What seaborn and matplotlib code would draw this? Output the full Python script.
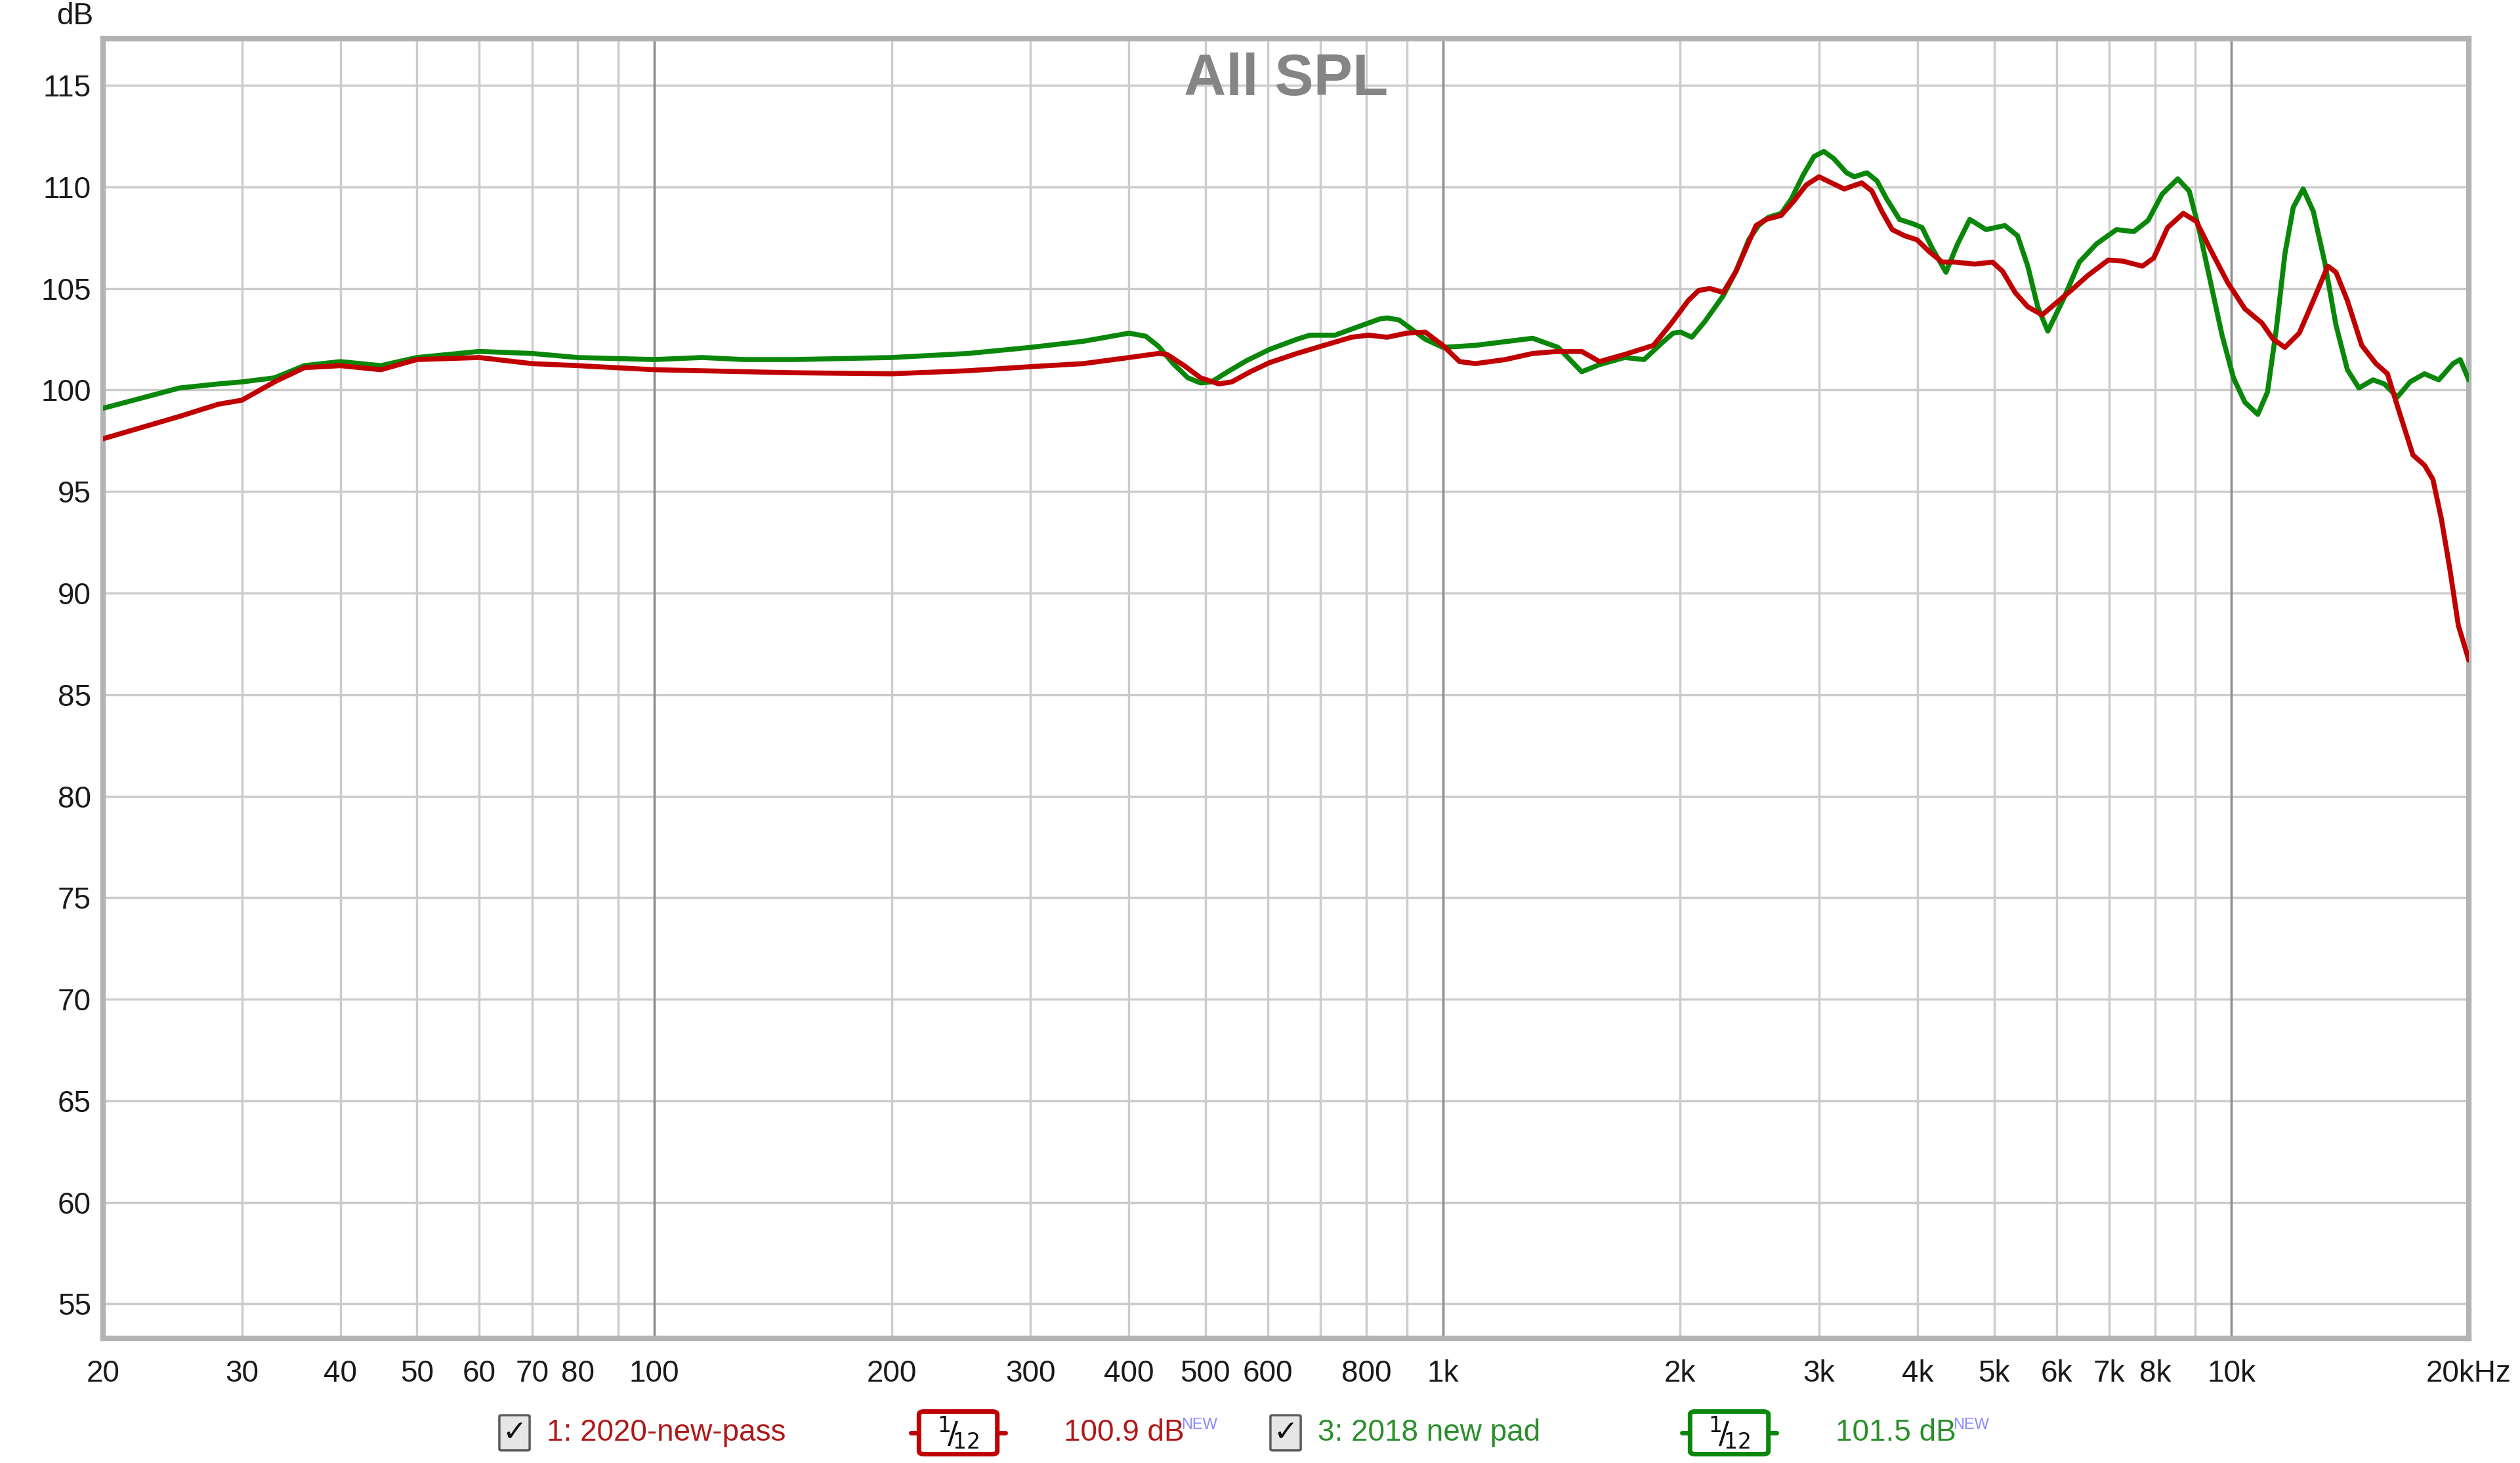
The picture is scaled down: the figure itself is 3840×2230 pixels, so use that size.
"""
All SPL frequency response comparison (2020 new pass vs 2018 new pad).
"""

import numpy as np
import pandas as pd
import matplotlib
matplotlib.use("Agg")
import matplotlib.pyplot as plt
import seaborn as sns
from matplotlib.patches import FancyBboxPatch
from matplotlib.lines import Line2D

freq_2020 = [20, 25, 28, 30, 33, 36, 40, 45, 50, 60, 70, 80, 100, 150, 200, 250, 300,
             350, 400, 436, 447, 470, 493, 520, 540, 570, 603, 653, 700, 766, 805, 850,
             900, 950, 1000, 1050, 1100, 1200, 1300, 1400, 1500, 1580, 1700, 1850, 1950,
             2047, 2110, 2180, 2268, 2354, 2425, 2496, 2570, 2686, 2786, 2890, 2999,
             3111, 3228, 3398, 3500, 3603, 3714, 3849, 3993, 4142, 4297, 4457, 4726,
             4978, 5126, 5318, 5518, 5754, 6000, 6260, 6580, 6980, 7280, 7710, 7970,
             8300, 8690, 9028, 9410, 9890, 10400, 10930, 11300, 11690, 12190, 12700,
             13250, 13570, 14030, 14630, 15250, 15770, 16300, 16990, 17570, 18010,
             18460, 18920, 19400, 20000]
spl_2020 = [97.6, 98.7, 99.3, 99.5, 100.4, 101.1, 101.2, 101.0, 101.5, 101.6, 101.3,
            101.2, 101.0, 100.85, 100.8, 100.95, 101.15, 101.3, 101.6, 101.8, 101.75,
            101.2, 100.6, 100.3, 100.4, 100.9, 101.35, 101.8, 102.15, 102.6, 102.7,
            102.6, 102.8, 102.85, 102.2, 101.4, 101.3, 101.5, 101.8, 101.9, 101.9,
            101.4, 101.75, 102.2, 103.3, 104.4, 104.9, 105.0, 104.8, 105.85, 107.0,
            108.1, 108.4, 108.6, 109.3, 110.1, 110.5, 110.2, 109.9, 110.2, 109.8,
            108.8, 107.9, 107.6, 107.4, 106.8, 106.3, 106.3, 106.2, 106.3, 105.85,
            104.8, 104.1, 103.7, 104.3, 104.9, 105.65, 106.4, 106.35, 106.1, 106.5,
            108.0, 108.7, 108.3, 106.9, 105.3, 104.0, 103.3, 102.5, 102.1, 102.8,
            104.4, 106.1, 105.8, 104.4, 102.2, 101.3, 100.8, 99.0, 96.8, 96.3, 95.6,
            93.65, 91.2, 88.4, 86.7]

freq_2018 = [20, 25, 28, 30, 33, 36, 40, 45, 50, 60, 70, 80, 100, 115, 130, 150, 200,
             250, 300, 350, 400, 420, 436, 455, 475, 493, 509, 531, 564, 603, 653, 678,
             730, 766, 832, 850, 880, 950, 1000, 1100, 1300, 1400, 1500, 1580, 1700,
             1800, 1900, 1959, 2003, 2069, 2147, 2268, 2354, 2443, 2514, 2587, 2686,
             2766, 2865, 2956, 3042, 3131, 3250, 3325, 3450, 3552, 3656, 3794, 3937,
             4053, 4172, 4345, 4490, 4658, 4885, 5160, 5355, 5518, 5680, 5850, 6110,
             6415, 6745, 7150, 7520, 7840, 8170, 8550, 8840, 9100, 9410, 9730, 10060,
             10400, 10800, 11110, 11400, 11690, 11980, 12330, 12700, 13130, 13570,
             14030, 14510, 15120, 15630, 16230, 16850, 17570, 18320, 19100, 19500, 20000]
spl_2018 = [99.1, 100.1, 100.3, 100.4, 100.6, 101.2, 101.4, 101.2, 101.6, 101.9, 101.8,
            101.6, 101.5, 101.6, 101.5, 101.5, 101.6, 101.8, 102.1, 102.4, 102.8,
            102.65, 102.15, 101.3, 100.6, 100.35, 100.4, 100.85, 101.45, 102.0, 102.5,
            102.7, 102.7, 103.0, 103.5, 103.55, 103.45, 102.5, 102.1, 102.2, 102.55,
            102.1, 100.9, 101.25, 101.6, 101.5, 102.35, 102.8, 102.85, 102.6, 103.35,
            104.65, 105.85, 107.4, 108.1, 108.5, 108.7, 109.4, 110.6, 111.5, 111.75,
            111.4, 110.7, 110.5, 110.7, 110.3, 109.4, 108.4, 108.2, 108.0, 107.0,
            105.8, 107.15, 108.4, 107.9, 108.1, 107.6, 106.1, 104.1, 102.9, 104.4,
            106.3, 107.2, 107.9, 107.8, 108.35, 109.65, 110.4, 109.8, 107.9, 105.3,
            102.7, 100.6, 99.4, 98.8, 99.9, 103.0, 106.7, 109.0, 109.9, 108.8, 106.3,
            103.2, 101.0, 100.1, 100.5, 100.3, 99.65, 100.4, 100.8, 100.5, 101.3,
            101.5, 100.5]

series_names = ["1: 2020-new-pass", "3: 2018 new pad"]
series_levels = ["100.9 dB", "101.5 dB"]

grid_freqs = [20, 30, 40, 50, 60, 70, 80, 90, 100, 200, 300, 400, 500, 600, 700, 800,
              900, 1000, 2000, 3000, 4000, 5000, 6000, 7000, 8000, 9000, 10000, 20000]
grid_labels = ["20", "30", "40", "50", "60", "70", "80", "", "100", "200", "300", "400",
               "500", "600", "", "800", "", "1k", "2k", "3k", "4k", "5k", "6k", "7k",
               "8k", "", "10k", "20kHz"]
decade_freqs = [100, 1000, 10000]
y_ticks = list(range(55, 116, 5))

RED = "#c00000"
GREEN = "#0a870a"
RED_TXT = "#b01818"
GREEN_TXT = "#2a8f2a"

sns.set_style("white")
plt.rcParams["font.family"] = ["Liberation Sans", "DejaVu Sans"]

W, H = 3840, 2230
fig = plt.figure(figsize=(W / 100, H / 100), dpi=100)
ax = fig.add_axes([157 / W, 1 - 2040 / H, (3762 - 157) / W, (2040 - 59) / H])

df = pd.concat([
    pd.DataFrame({"freq": freq_2020, "spl": spl_2020, "series": series_names[0]}),
    pd.DataFrame({"freq": freq_2018, "spl": spl_2018, "series": series_names[1]}),
])
sns.lineplot(data=df, x="freq", y="spl", hue="series",
             palette={series_names[0]: RED, series_names[1]: GREEN},
             hue_order=[series_names[1], series_names[0]],
             estimator=None, sort=False, lw=5.5, legend=False, ax=ax, zorder=5)
for ln in ax.get_lines():
    ln.set_solid_joinstyle("round")

ax.set_xscale("log")
ax.set_xlim(20, 20000)
ax.set_ylim(53.3, 117.3)
ax.set_xticks(grid_freqs)
ax.set_xticklabels(grid_labels)
ax.minorticks_off()
ax.set_yticks(y_ticks)
ax.set_yticklabels([str(v) for v in y_ticks])
ax.set_xlabel("")
ax.set_ylabel("")
ax.tick_params(axis="both", length=0, labelsize=33, colors="#1a1a1a")
ax.tick_params(axis="x", pad=23)
ax.tick_params(axis="y", pad=13)
ax.grid(True, color="#cccccc", lw=2.5, zorder=0)
for f in decade_freqs:
    ax.axvline(f, color="#8f8f8f", lw=2.5, zorder=1)
for s in ax.spines.values():
    s.set_color("#b3b3b3")
    s.set_linewidth(6)

ax.text(0.5, 0.968, "All SPL", transform=ax.transAxes, ha="center", va="center",
        fontsize=64, fontweight="bold", color="#858585", zorder=6)
fig.text(114 / W, 1 - 25 / H, "dB", ha="center", va="center", fontsize=33, color="#1a1a1a")

# bottom legend strip
leg_y = 1 - 2184 / H
legend_items = [
    (784, 833, 1460, 1621, 1800, series_names[0], series_levels[0], RED, RED_TXT),
    (1959, 2008, 2635, 2797, 2976, series_names[1], series_levels[1], GREEN, GREEN_TXT),
]
for cb_x, name_x, frac_x, lvl_x, new_x, name, lvl, lc, tc in legend_items:
    bw, bh = 40 / W, 50 / H
    fig.patches.append(FancyBboxPatch((cb_x / W - bw / 2, leg_y - bh / 2), bw, bh,
                                      boxstyle="round,pad=0.0008", transform=fig.transFigure,
                                      facecolor="#e6e6e6", edgecolor="#5c5c5c", lw=2.5))
    fig.text(cb_x / W, leg_y, "\u2713", ha="center", va="center", fontsize=32,
             fontweight="bold", color="#111111", family=["DejaVu Sans"])
    fig.text(name_x / W, leg_y, name, ha="left", va="center", fontsize=33, color=tc)

    fig.add_artist(Line2D([(frac_x - 72) / W, (frac_x + 72) / W], [leg_y, leg_y],
                          transform=fig.transFigure, color=lc, lw=5))
    fw, fh = 104 / W, 56 / H
    fig.patches.append(FancyBboxPatch((frac_x / W - fw / 2, leg_y - fh / 2), fw, fh,
                                      boxstyle="round,pad=0.002", transform=fig.transFigure,
                                      facecolor="white", edgecolor=lc, lw=5, zorder=3))
    fig.text(frac_x / W, leg_y, r"$^{1}\!/\!_{12}$", ha="center", va="center",
             fontsize=34, color="#111111", zorder=4)

    fig.text(lvl_x / W, leg_y, lvl, ha="left", va="center", fontsize=33, color=tc)
    fig.text(new_x / W, leg_y + 12 / H, "NEW", ha="left", va="center", fontsize=17,
             color="#8a8aff")

fig.savefig("out.png", dpi=100, facecolor="white")
